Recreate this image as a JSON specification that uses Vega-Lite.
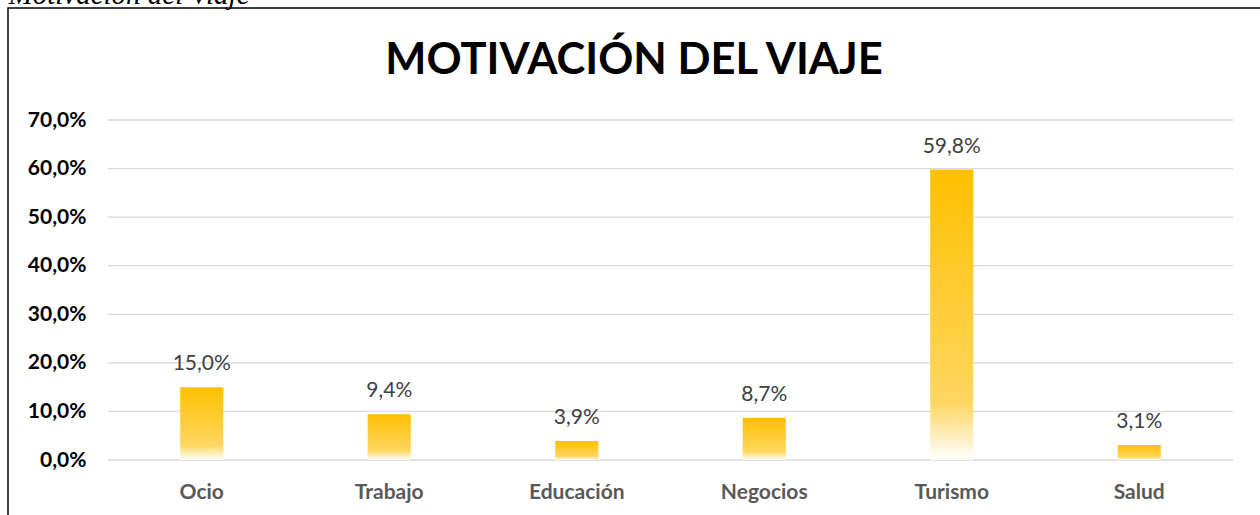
{
  "$schema": "https://vega.github.io/schema/vega-lite/v6.json",
  "width": 1260,
  "height": 515,
  "autosize": {"type": "none"},
  "padding": {"left": 8, "top": 8, "right": 0, "bottom": 0},
  "background": "white",
  "config": {
    "view": {"stroke": "#000000", "strokeWidth": 1.5},
    "locale": {"number": {"decimal": ",", "thousands": ".", "grouping": [3], "currency": ["", " €"]}}
  },
  "title": {
    "text": "MOTIVACIÓN DEL VIAJE",
    "font": "Lato",
    "fontSize": 43.5,
    "fontWeight": "bold",
    "color": "#000000",
    "anchor": "middle",
    "frame": "group",
    "baseline": "alphabetic",
    "dx": -4,
    "offset": -137
  },
  "encoding": {
    "y": {
      "field": "valor", "type": "quantitative",
      "scale": {"domain": [0, 0.7], "range": [452, 112]},
      "axis": {
        "offset": -100, "zindex": 1, "domain": false, "ticks": false, "tickSize": 0, "grid": false,
        "values": [0, 0.1, 0.2, 0.3, 0.4, 0.5, 0.6, 0.7], "format": ".1%",
        "labelFont": "Lato", "labelFontSize": 21, "labelFontWeight": "bold", "labelColor": "#000000",
        "labelPadding": 22,
        "title": "Motivación del Viaje", "titleAngle": 0, "titleX": -100, "titleY": -5,
        "titleAlign": "left", "titleBaseline": "alphabetic", "titleFont": "Liberation Serif",
        "titleFontStyle": "italic", "titleFontWeight": "normal", "titleFontSize": 29, "titleColor": "#000000"
      }
    }
  },
  "layer": [
    {
      "data": {"values": [{"valor": 0}, {"valor": 0.1}, {"valor": 0.2}, {"valor": 0.3}, {"valor": 0.4}, {"valor": 0.5}, {"valor": 0.6}, {"valor": 0.7}]},
      "mark": {"type": "rule", "color": "#D9D9D9", "strokeWidth": 1.3},
      "encoding": {
        "x": {"datum": 0, "type": "quantitative", "scale": {"domain": [0, 1], "range": [100, 1225]}, "axis": null},
        "x2": {"datum": 1}
      }
    },
    {
      "data": {"values": [
        {"motivo": "Ocio", "valor": 0.150},
        {"motivo": "Trabajo", "valor": 0.094},
        {"motivo": "Educación", "valor": 0.039},
        {"motivo": "Negocios", "valor": 0.087},
        {"motivo": "Turismo", "valor": 0.598},
        {"motivo": "Salud", "valor": 0.031}
      ]},
      "encoding": {
        "x": {
          "field": "motivo", "type": "nominal", "sort": null,
          "scale": {"range": [100, 1225], "paddingInner": 0.77, "paddingOuter": 0.385},
          "axis": {
            "title": null, "offset": -63, "domain": false, "ticks": false, "tickSize": 0,
            "labelAngle": 0, "labelFont": "Lato", "labelFontSize": 21, "labelFontWeight": "bold",
            "labelColor": "#595959", "labelBaseline": "alphabetic", "labelPadding": 38, "grid": false
          }
        }
      },
      "layer": [
        {
          "mark": {
            "type": "bar",
            "fill": {
              "gradient": "linear", "x1": 0, "y1": 0, "x2": 0, "y2": 1,
              "stops": [
                {"offset": 0, "color": "#FFC000"},
                {"offset": 0.8, "color": "#FFD660"},
                {"offset": 1, "color": "#FFFFFF"}
              ]
            }
          }
        },
        {
          "mark": {"type": "text", "font": "Lato", "fontSize": 21, "color": "#404040", "baseline": "alphabetic", "dy": -17},
          "encoding": {
            "text": {"field": "valor", "type": "quantitative", "format": ".1%"}
          }
        }
      ]
    }
  ],
  "resolve": {"scale": {"x": "independent"}, "axis": {"x": "independent"}}
}
